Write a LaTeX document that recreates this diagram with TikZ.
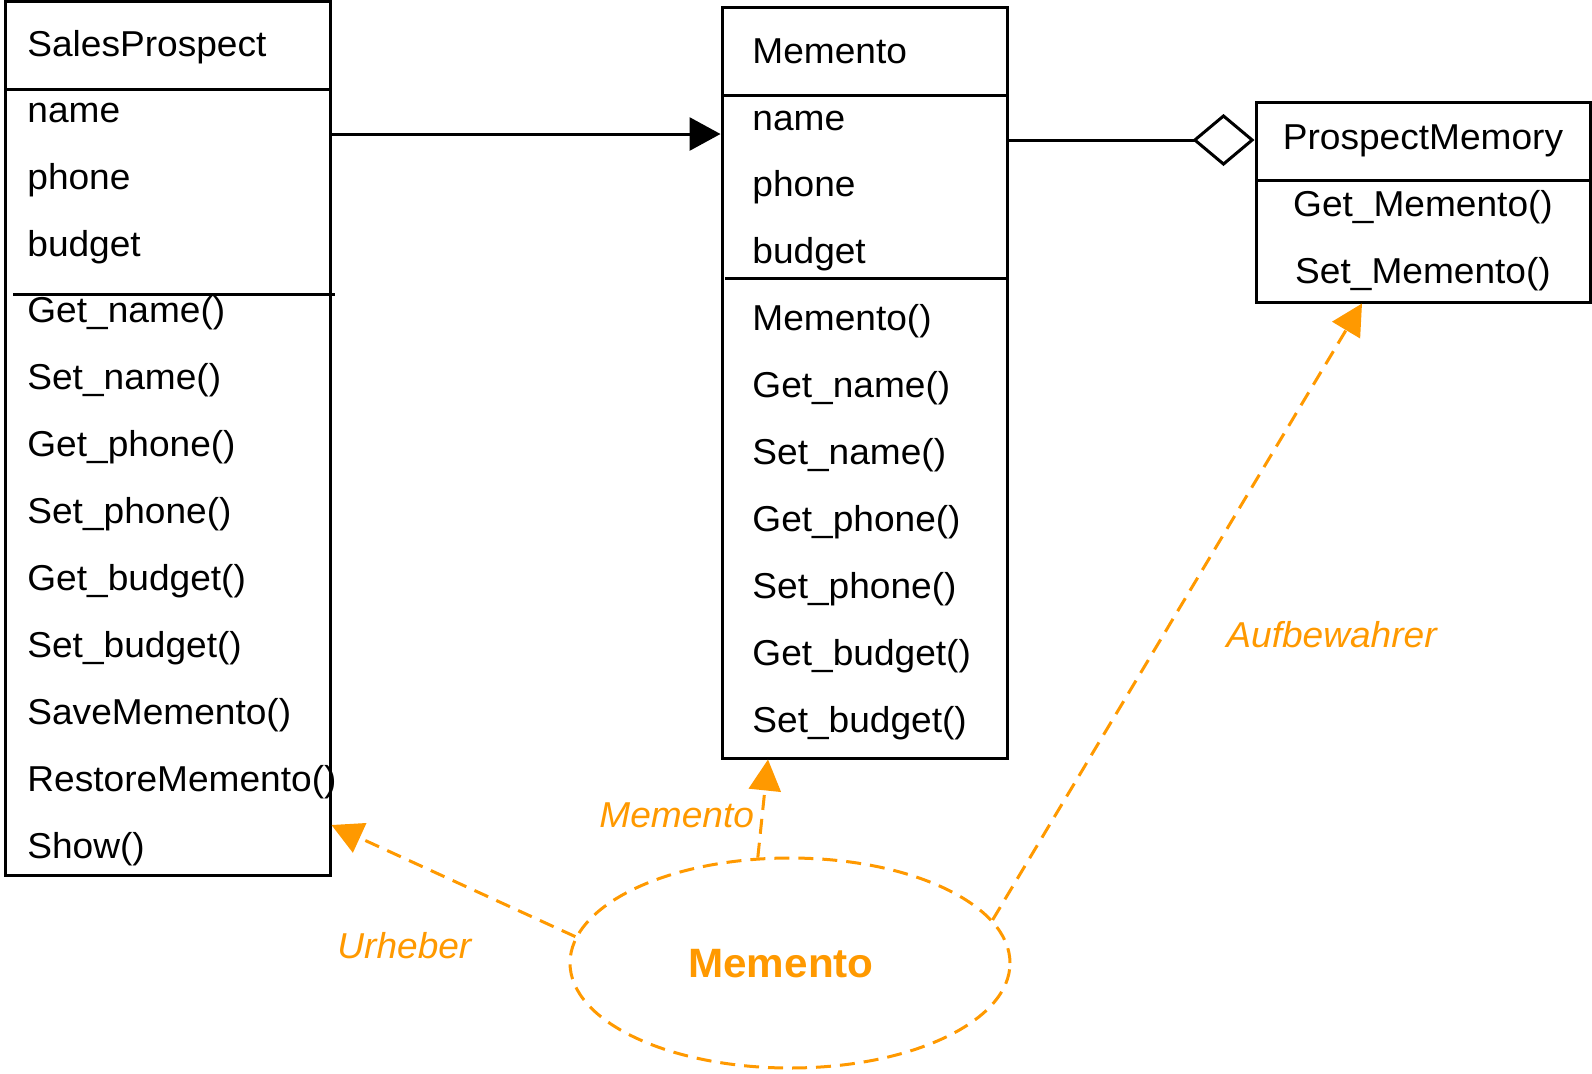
\documentclass[tikz,border=0pt]{standalone}
\usepackage{fontspec}
\setmainfont[FakeStretch=1.03]{Liberation Sans}
\usetikzlibrary{arrows.meta,shapes.geometric,fit}
\definecolor{umlorange}{RGB}{255,153,0}
\tikzset{
  classbox/.style={draw, line width=1.5pt, inner sep=0pt},
  sepline/.style={line width=1.5pt},
  member/.style={anchor=base west, inner sep=0pt, font=\fontsize{18pt}{21pt}\selectfont},
  centred/.style={anchor=base, inner sep=0pt, font=\fontsize{18pt}{21pt}\selectfont},
  rolelabel/.style={anchor=base west, inner sep=0pt, text=umlorange, font=\fontsize{18pt}{21pt}\selectfont\itshape},
  assoc/.style={line width=1.5pt, -{Triangle[length=15.5pt,width=16.5pt]}},
  aggr/.style={line width=1.5pt, -{Diamond[open,length=31pt,width=26pt]}},
  roledash/.style={draw=umlorange, line width=1.5pt, dash pattern=on 7.5pt off 4.5pt,
    -{Triangle[length=15.5pt,width=16pt,fill=umlorange]}},
}
\begin{document}
\begin{tikzpicture}[x=0.5pt,y=-0.5pt]
\useasboundingbox (0,0) rectangle (1592,1073);

% class SalesProspect
\node[classbox, fit={(5,1) (330,875)}] (sp) {};
\draw[sepline] (7,89) -- (330,89);
\draw[sepline] (13,294) -- (335,294);
\node[member] (sp-title) at (27,56) {SalesProspect};
\foreach \t [count=\i] in {name,phone,budget}
  \node[member] (sp-a\i) at (27,{122+67*(\i-1)}) {\t};
\foreach \t [count=\i] in {Get\_name(),Set\_name(),Get\_phone(),Set\_phone(),Get\_budget(),Set\_budget(),SaveMemento(),RestoreMemento(),Show()}
  \node[member] (sp-m\i) at (27,{322+67*(\i-1)}) {\t};

% class Memento
\node[classbox, fit={(722,7) (1007,758)}] (mem) {};
\draw[sepline] (722,95) -- (1007,95);
\draw[sepline] (725,278) -- (1006,278);
\node[member] (mem-title) at (752,63) {Memento};
\foreach \t [count=\i] in {name,phone,budget}
  \node[member] (mem-a\i) at (752,{130+66.5*(\i-1)}) {\t};
\foreach \t [count=\i] in {Memento(),Get\_name(),Set\_name(),Get\_phone(),Set\_phone(),Get\_budget(),Set\_budget()}
  \node[member] (mem-m\i) at (752,{330.5+67*(\i-1)}) {\t};

% class ProspectMemory
\node[classbox, fit={(1256,102) (1590,302)}] (pm) {};
\draw[sepline] (1256,180) -- (1590,180);
\node[centred] (pm-title) at (1423,149) {ProspectMemory};
\node[centred] (pm-m1) at (1423,216) {Get\_Memento()};
\node[centred] (pm-m2) at (1423,283) {Set\_Memento()};

% associations
\coordinate (a1) at (0,134);
\coordinate (a2) at (0,140);
\draw[assoc] (sp.east |- a1) -- (mem.west |- a1);
\draw[aggr] (mem.east |- a2) -- (pm.west |- a2);

% pattern collaboration
\node[ellipse, draw=umlorange, line width=1.5pt, dash pattern=on 7.5pt off 4.5pt,
      minimum width=220pt, minimum height=105pt, inner sep=0pt] (ell) at (790,963) {};
\node[anchor=base, inner sep=0pt, text=umlorange, font=\fontsize{20.5pt}{24pt}\selectfont\bfseries]
  (ell-name) at (781,977) {Memento};

\coordinate (t1) at (0,825);
\coordinate (t2) at (768,0);
\coordinate (t3) at (1362,0);
\draw[roledash] (ell.173) -- (sp.east |- t1);
\draw[roledash] (ell.107) -- (mem.south -| t2);
\draw[roledash] (ell.12) -- (pm.south -| t3);

\node[rolelabel] (r-urheber) at (337,958) {Urheber};
\node[rolelabel] (r-memento) at (599,827) {Memento};
\node[rolelabel] (r-aufbew) at (1226,647) {Aufbewahrer};
\end{tikzpicture}
\end{document}
